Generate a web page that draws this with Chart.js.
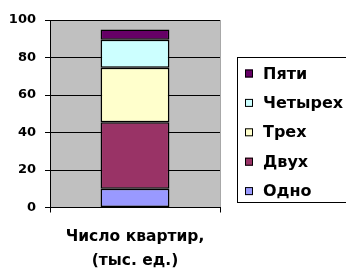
<!DOCTYPE html>
<html>
<head>
<meta charset="utf-8">
<script src="https://cdn.jsdelivr.net/npm/chart.js@4/dist/chart.umd.min.js"></script>
<style>
  html, body { margin: 0; padding: 0; background: #fff; }
  #wrap { width: 346px; height: 271px; }
</style>
</head>
<body>
<div id="wrap"><canvas id="flats" width="346" height="271"></canvas></div>
<script>
// data
var categories = [['Число квартир,', '(тыс. ед.)']];
var seriesNames = ['Одно', 'Двух', 'Трех', 'Четырех', 'Пяти'];
var odno = [10];
var dvuh = [35.5];
var treh = [29];
var chetyreh = [15];
var pyati = [5.5];
var yTicks = [0, 20, 40, 60, 80, 100];

var seriesValues = [odno, dvuh, treh, chetyreh, pyati];
var seriesColors = ['#9999ff', '#993366', '#ffffcc', '#ccffff', '#660066'];
var fontName = '"DejaVu Sans", sans-serif';

var datasets = [];
for (var i = 0; i < seriesNames.length; i++) {
    datasets.push({
        label: seriesNames[i],
        data: seriesValues[i],
        backgroundColor: seriesColors[i],
        borderColor: '#000',
        borderWidth: 1.5,
        borderSkipped: false,
        categoryPercentage: 1,
        barPercentage: 0.405
    });
}

// grey plot area like the old excel chart
var plotBg = {
    id: 'plotBg',
    beforeDraw: function(chart) {
        var a = chart.chartArea, c = chart.ctx;
        c.save();
        c.fillStyle = '#c0c0c0';
        c.fillRect(a.left, a.top, a.right - a.left, a.bottom - a.top);
        c.strokeStyle = '#a8a8a8';
        c.lineWidth = 1;
        c.beginPath();
        c.moveTo(a.right + 0.5, a.top);
        c.lineTo(a.right + 0.5, a.bottom);
        c.stroke();
        c.restore();
    }
};

// boxed legend on the right, top series first
var boxLegend = {
    id: 'boxLegend',
    afterDraw: function(chart) {
        var c = chart.ctx;
        c.save();
        c.strokeStyle = '#000';
        c.lineWidth = 1;
        c.strokeRect(237.5, 57.5, 120, 145);
        c.font = 'bold 16px ' + fontName;
        c.textBaseline = 'middle';
        var ds = chart.data.datasets;
        for (var k = 0; k < ds.length; k++) {
            var d = ds[ds.length - 1 - k];
            var y = 73.5 + k * 29.4;
            c.fillStyle = d.backgroundColor;
            c.fillRect(245, y - 4, 8, 8);
            c.strokeRect(245.5, y - 3.5, 7, 7);
            c.fillStyle = '#000';
            c.fillText(d.label, 263, y + 1);
        }
        c.restore();
    }
};

var ctx = document.getElementById('flats').getContext('2d');
var chart = new Chart(ctx, {
    type: 'bar',
    data: { labels: categories, datasets: datasets },
    plugins: [plotBg, boxLegend],
    options: {
        responsive: false,
        animation: false,
        layout: { padding: { top: 20, right: 126, left: 0, bottom: 0 } },
        plugins: {
            legend: { display: false },
            tooltip: { enabled: false }
        },
        scales: {
            x: {
                stacked: true,
                grid: { drawOnChartArea: false, color: '#000', tickLength: 5, offset: true },
                border: { color: '#000', width: 1 },
                ticks: {
                    color: '#000',
                    padding: 12,
                    font: { family: fontName, size: 15.5, weight: 'bold', lineHeight: 1.55 }
                },
                afterFit: function(s) { s.height = 63.5; }
            },
            y: {
                stacked: true,
                min: 0,
                max: 100,
                afterBuildTicks: function(s) {
                    s.ticks = yTicks.map(function(v) { return { value: v }; });
                },
                grid: { color: '#000', tickLength: 5 },
                border: { color: '#000', width: 1 },
                ticks: {
                    color: '#000',
                    padding: 9,
                    font: { family: fontName, size: 13, weight: 'bold' }
                },
                afterFit: function(s) { s.width = 50; }
            }
        }
    }
});
</script>
</body>
</html>
